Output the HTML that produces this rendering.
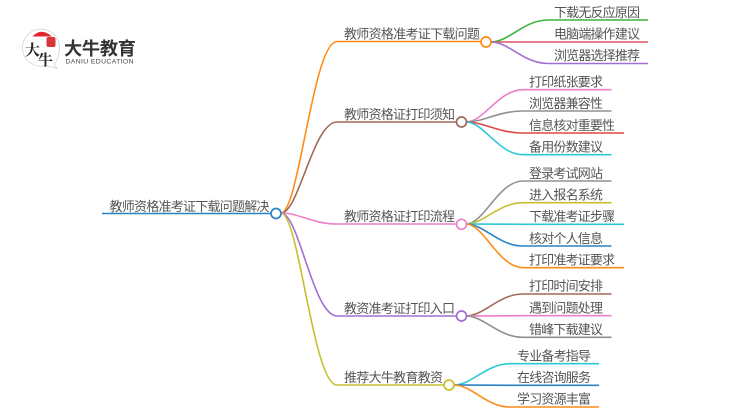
<!DOCTYPE html>
<html>
<head>
<meta charset="utf-8">
<style>
html,body{margin:0;padding:0;background:#fff;width:750px;height:410px;overflow:hidden}
svg{display:block;filter:blur(0.3px)}
text{font-family:"Liberation Sans","Noto Sans CJK SC",sans-serif;font-size:13px;fill:#555}
path,line{fill:none;stroke-width:1.6}
circle{fill:#fff;stroke-width:1.7}
</style>
</head>
<body>
<svg width="750" height="410" viewBox="0 0 750 410" xmlns="http://www.w3.org/2000/svg">
<!-- logo -->
<g>
<path d="M32.500 36.500 Q41 27 52 36.500 Z" style="fill:#e3262c;stroke:none"/>
<path d="M46 65.500 A18.500 18.500 0 1 1 59 52 Q58.500 60 54 64 L57 68.500 Z" style="fill:none;stroke:#cccccc;stroke-width:0.7"/>
<rect x="46.500" y="37" width="9" height="10" rx="2" style="fill:#d9363c"/>
<text x="25" y="55" style="font-size:15px;font-weight:700;fill:#222;font-family:'Noto Serif CJK SC',serif">大</text>
<text x="38" y="65" style="font-size:15px;font-weight:700;fill:#222;font-family:'Noto Serif CJK SC',serif">牛</text>
<text x="64" y="55" style="font-size:18.200px;font-weight:700;fill:#333" textLength="72">大牛教育</text>
<text x="65.500" y="63.500" style="font-size:6.800px;fill:#444" textLength="68">DANIU EDUCATION</text>
</g>

<!-- root -->
<line x1="102" y1="213.500" x2="272" y2="213.500" style="stroke:#2d82c4"/>
<text x="109.500" y="210.800" textLength="160">教师资格准考证下载问题解决</text>

<!-- main branches -->
<path d="M281 213 C299 213 313 41.500 337 41.500 L481 41.500" style="stroke:#ff8c1a"/>
<path d="M281 213 C299 213 313 122 337 122 L456 122" style="stroke:#a0695a"/>
<path d="M281 213 C299 213 313 224 337 224 L456 224" style="stroke:#ee7fc9"/>
<path d="M281 213 C299 213 313 316 337 316 L456 316" style="stroke:#a070d0"/>
<path d="M281 213 C299 213 313 385 337 385 L444 385" style="stroke:#c6c030"/>

<text x="344" y="38.300" textLength="136">教师资格准考证下载问题</text>
<text x="344" y="118.800" textLength="111">教师资格证打印须知</text>
<text x="344" y="220.800" textLength="111">教师资格证打印流程</text>
<text x="344" y="312.800" textLength="111">教资准考证打印入口</text>
<text x="344" y="381.800" textLength="99">推荐大牛教育教资</text>

<!-- group 1 -->
<path d="M491 42 C509 42 523.500 20 548 20 L648 20" style="stroke:#3cb33c"/>
<path d="M491 42 C509 42 523.500 42 548 42 L648 42" style="stroke:#de5466"/>
<path d="M491 42 C509 42 523.500 63.500 548 63.500 L648 63.500" style="stroke:#a070d0"/>
<text x="554" y="16.800" textLength="86">下载无反应原因</text>
<text x="554" y="38.300" textLength="86">电脑端操作建议</text>
<text x="554" y="59.800" textLength="86">浏览器选择推荐</text>

<!-- group 2 -->
<path d="M466 122 C484 122 498.500 89.700 523 89.700 L611.500 89.700" style="stroke:#ee7fc9"/>
<path d="M466 122 C484 122 498.500 111 523 111 L611.500 111" style="stroke:#909090"/>
<path d="M466 122 C484 122 498.500 133 523 133 L624 133" style="stroke:#e04545"/>
<path d="M466 122 C484 122 498.500 154.700 523 154.700 L611.500 154.700" style="stroke:#2cc8d8"/>
<text x="529" y="86.300" textLength="74">打印纸张要求</text>
<text x="529" y="107.800" textLength="74">浏览器兼容性</text>
<text x="529" y="129.800" textLength="86">信息核对重要性</text>
<text x="529" y="151.300" textLength="74">备用份数建议</text>

<!-- group 3 -->
<path d="M466 224 C484 224 498.500 181 523 181 L611.500 181" style="stroke:#909090"/>
<path d="M466 224 C484 224 498.500 202.700 523 202.700 L611.500 202.700" style="stroke:#c6c030"/>
<path d="M466 224 C484 224 498.500 224.300 523 224.300 L624 224.300" style="stroke:#2cc8d8"/>
<path d="M466 224 C484 224 498.500 246 523 246 L611.500 246" style="stroke:#2d82c4"/>
<path d="M466 224 C484 224 498.500 267.700 523 267.700 L624 267.700" style="stroke:#ff8c1a"/>
<text x="529" y="177.800" textLength="74">登录考试网站</text>
<text x="529" y="199.300" textLength="74">进入报名系统</text>
<text x="529" y="220.800" textLength="86">下载准考证步骤</text>
<text x="529" y="242.800" textLength="74">核对个人信息</text>
<text x="529" y="264.300" textLength="86">打印准考证要求</text>

<!-- group 4 -->
<path d="M466 316 C484 316 498.500 294 523 294 L611.500 294" style="stroke:#a0695a"/>
<path d="M466 316 C484 316 498.500 315.700 523 315.700 L611.500 315.700" style="stroke:#ee7fc9"/>
<path d="M466 316 C484 316 498.500 337.300 523 337.300 L611.500 337.300" style="stroke:#909090"/>
<text x="529" y="290.300" textLength="74">打印时间安排</text>
<text x="529" y="312.300" textLength="74">遇到问题处理</text>
<text x="529" y="333.800" textLength="74">错峰下载建议</text>

<!-- group 5 -->
<path d="M454 385 C472 385 486 363.700 510 363.700 L599 363.700" style="stroke:#2cc8d8"/>
<path d="M454 385 C472 385 486 385.300 510 385.300 L599 385.300" style="stroke:#2d82c4"/>
<path d="M454 385 C472 385 486 407 510 407 L599 407" style="stroke:#ff8c1a"/>
<text x="517" y="360.300" textLength="74">专业备考指导</text>
<text x="517" y="381.800" textLength="74">在线咨询服务</text>
<text x="517" y="403.300" textLength="74">学习资源丰富</text>

<!-- nodes -->
<circle cx="276" cy="213.500" r="5" style="stroke:#2d82c4"/>
<circle cx="486" cy="42" r="5" style="stroke:#ff8c1a"/>
<circle cx="461.500" cy="122" r="5" style="stroke:#a0695a"/>
<circle cx="461.500" cy="224.300" r="5" style="stroke:#ee7fc9"/>
<circle cx="461.500" cy="316" r="5" style="stroke:#a070d0"/>
<circle cx="449" cy="385" r="5" style="stroke:#c6c030"/>
</svg>
</body>
</html>
